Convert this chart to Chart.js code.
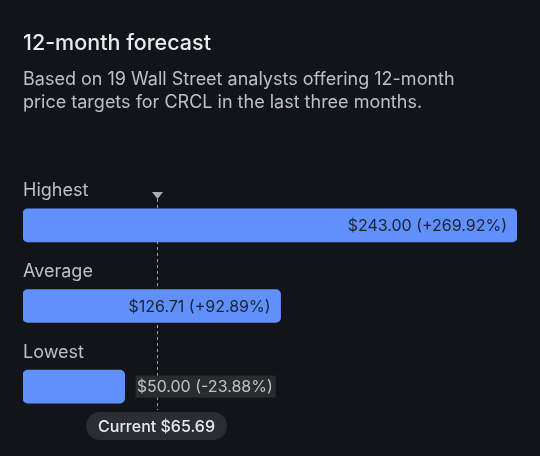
<!DOCTYPE html>
<html lang="en">
  <head>
    <meta charset="UTF-8" />
    <title>12-month forecast</title>
    <style>
      html, body { margin: 0; padding: 0; background: #131419; }
      .wrap { position: relative; width: 540px; height: 456px; overflow: hidden; font-family: Inter, Roboto, sans-serif; }
      .head { position: absolute; left: 23px; top: 28px; width: 515px; z-index: 2; }
      .head h1 { margin: 0; font-size: 21.5px; font-weight: 500; color: #e8eaed; line-height: 28px; }
      .head p { margin: 11px 0 0 0; font-size: 18px; color: #bdc1c6; line-height: 23px; }
      .chart-box { position: absolute; left: 0; top: 0; width: 540px; height: 456px; }
    </style>
  </head>
  <body>
    <div class="wrap">
      <div class="head">
        <h1>12-month forecast</h1>
        <p>Based on 19 Wall Street analysts offering 12-month<br />price targets for CRCL in the last three months.</p>
      </div>
      <div class="chart-box"><canvas id="forecast"></canvas></div>
    </div>
    <script src="https://cdn.jsdelivr.net/npm/chart.js"></script>
    <script>
      const categories = ["Highest", "Average", "Lowest"];
      const targets = [243.0, 126.71, 50.0];
      const changes = ["+269.92%", "+92.89%", "-23.88%"];
      const currentPrice = 65.69;

      const FONT = "Inter, Roboto, sans-serif";

      function money(v) {
        return "$" + v.toFixed(2);
      }

      function roundRect(ctx, x, y, w, h, r) {
        ctx.beginPath();
        ctx.moveTo(x + r, y);
        ctx.lineTo(x + w - r, y);
        ctx.arcTo(x + w, y, x + w, y + r, r);
        ctx.lineTo(x + w, y + h - r);
        ctx.arcTo(x + w, y + h, x + w - r, y + h, r);
        ctx.lineTo(x + r, y + h);
        ctx.arcTo(x, y + h, x, y + h - r, r);
        ctx.lineTo(x, y + r);
        ctx.arcTo(x, y, x + r, y, r);
        ctx.closePath();
      }

      // dashed "current price" line, drawn under the bars
      const currentLine = {
        id: "currentLine",
        beforeDatasetsDraw(chart) {
          const ctx = chart.ctx;
          const x = Math.round(chart.scales.x.getPixelForValue(currentPrice)) + 0.5;
          ctx.save();
          ctx.strokeStyle = "#9aa0a6";
          ctx.lineWidth = 1;
          ctx.setLineDash([3, 3]);
          ctx.beginPath();
          ctx.moveTo(x, 199);
          ctx.lineTo(x, 410);
          ctx.stroke();
          ctx.setLineDash([]);
          ctx.fillStyle = "#a8acb2";
          ctx.beginPath();
          ctx.moveTo(x - 5.5, 192);
          ctx.lineTo(x + 5.5, 192);
          ctx.lineTo(x, 199);
          ctx.closePath();
          ctx.fill();
          ctx.restore();
        },
        afterDatasetsDraw(chart) {
          const ctx = chart.ctx;
          const meta = chart.getDatasetMeta(0);
          const x0 = chart.scales.x.getPixelForValue(currentPrice);
          ctx.save();
          ctx.textBaseline = "middle";
          meta.data.forEach((bar, i) => {
            const top = bar.y - bar.height / 2;
            // category label above each bar
            ctx.font = "18px " + FONT;
            ctx.fillStyle = "#bdc1c6";
            ctx.textAlign = "left";
            ctx.fillText(categories[i], chart.chartArea.left, top - 18);

            const txt = money(targets[i]) + " (" + changes[i] + ")";
            ctx.font = "16px " + FONT;
            const w = ctx.measureText(txt).width;
            if (bar.x - bar.base > w + 24) {
              ctx.fillStyle = "#1c2233";
              ctx.textAlign = "right";
              ctx.fillText(txt, bar.x - 10, bar.y + 1);
            } else {
              const tx = bar.x + 12;
              ctx.fillStyle = "#2a2b2e";
              ctx.fillRect(tx - 1, bar.y - 11, w + 4, 22);
              ctx.fillStyle = "#bfc2c7";
              ctx.textAlign = "left";
              ctx.fillText(txt, tx, bar.y + 1);
            }
          });

          // current price pill
          const label = "Current " + money(currentPrice);
          ctx.font = "500 16px " + FONT;
          const lw = ctx.measureText(label).width;
          const pw = lw + 24, ph = 28;
          const px = x0 - pw / 2, py = 412;
          ctx.fillStyle = "#2b2d34";
          roundRect(ctx, px, py, pw, ph, 14);
          ctx.fill();
          ctx.fillStyle = "#e8eaed";
          ctx.textAlign = "center";
          ctx.fillText(label, x0, py + ph / 2 + 1);
          ctx.restore();
        }
      };

      new Chart(document.getElementById("forecast"), {
        type: "bar",
        data: {
          labels: categories,
          datasets: [
            {
              data: targets,
              backgroundColor: "#6090fc",
              borderRadius: 5,
              borderSkipped: false,
              barThickness: 33
            }
          ]
        },
        options: {
          indexAxis: "y",
          responsive: true,
          maintainAspectRatio: false,
          animation: false,
          layout: { padding: { left: 23, right: 23, top: 185, bottom: 29 } },
          plugins: {
            legend: { display: false },
            tooltip: { enabled: false }
          },
          scales: {
            x: { display: false, min: 0, max: 243 },
            y: { display: false }
          }
        },
        plugins: [currentLine]
      });
    </script>
  </body>
</html>
